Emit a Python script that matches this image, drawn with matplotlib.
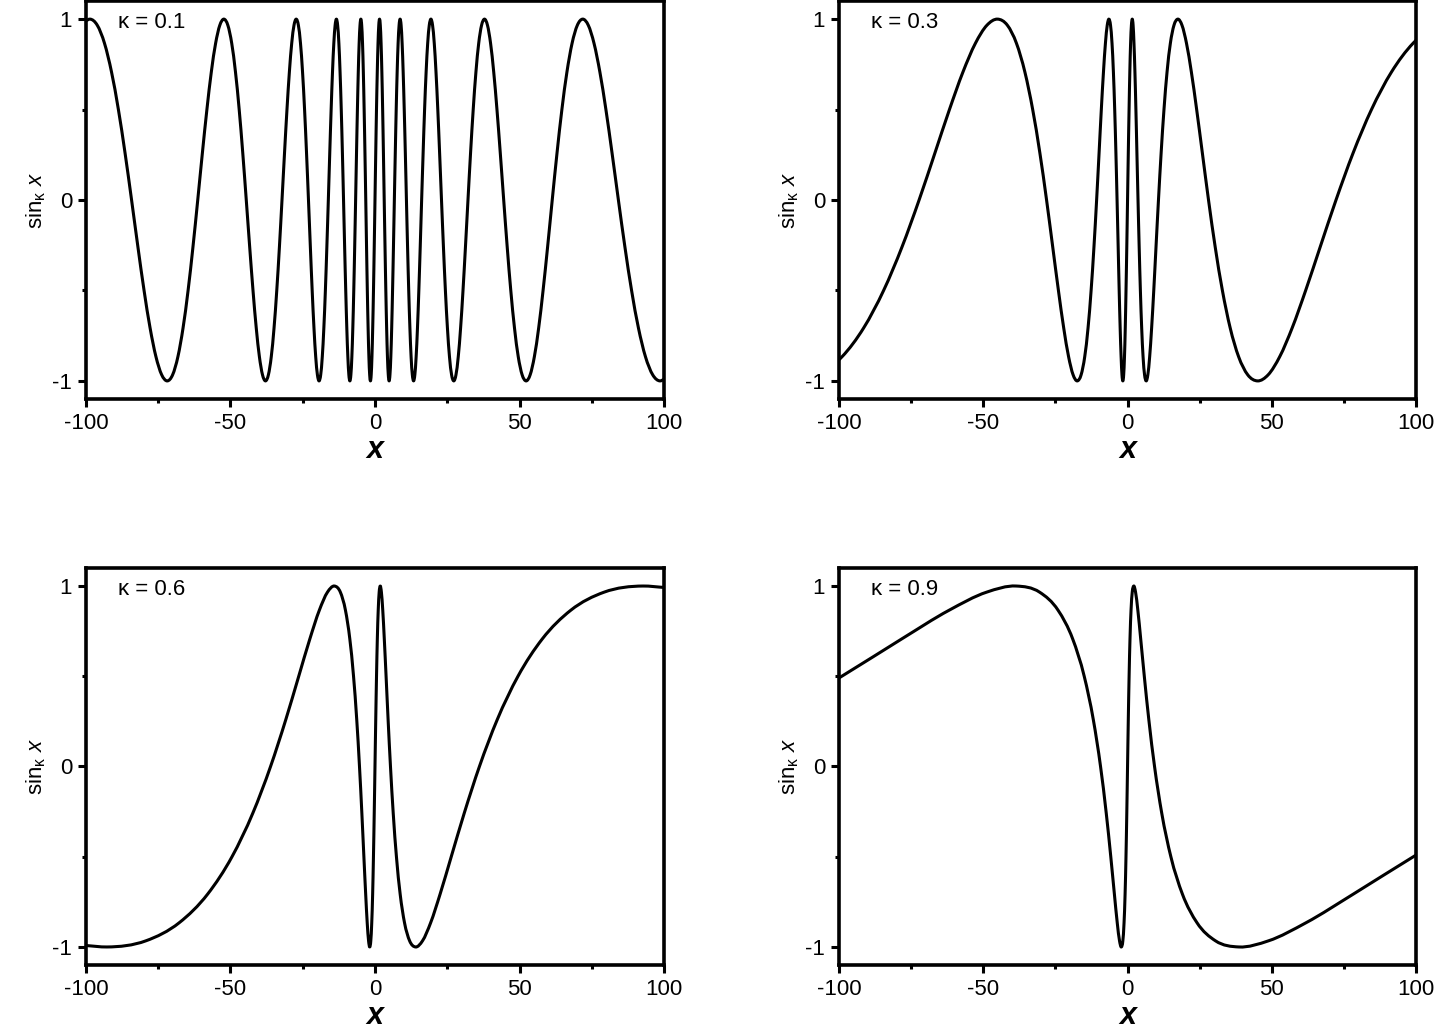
import matplotlib
matplotlib.use("Agg")
import matplotlib.pyplot as plt
import numpy as np
from matplotlib.path import Path
from matplotlib.patches import PathPatch
from matplotlib.ticker import MultipleLocator, FormatStrFormatter

plt.rcParams['font.family'] = ['Liberation Sans', 'DejaVu Sans']
plt.rcParams['mathtext.fontset'] = 'custom'
plt.rcParams['mathtext.rm'] = 'Liberation Sans'
plt.rcParams['mathtext.it'] = 'Liberation Sans:italic'

# kappa value of each panel
kappas = [0.1, 0.3, 0.6, 0.9]

# curve points (x, sin_k x)
x_k01 = [-100, -98.63, -96.07, -93.57, -91.14, -88.77, -86.46, -84.21, -82.02, -79.89, -77.81, -75.78,
         -73.80, -71.88, -70.00, -68.18, -66.40, -64.66, -62.97, -61.32, -59.72, -58.15, -56.63, -55.14,
         -53.69, -52.28, -50.90, -49.56, -48.26, -46.98, -45.74, -44.53, -43.35, -42.20, -41.08, -39.99,
         -38.92, -37.88, -36.87, -35.88, -34.92, -33.98, -33.06, -32.17, -31.30, -30.45, -29.62, -28.81,
         -28.02, -27.26, -26.50, -25.77, -25.06, -24.36, -23.68, -23.01, -22.36, -21.73, -21.11, -20.51,
         -19.92, -19.34, -18.78, -18.23, -17.69, -17.16, -16.65, -16.14, -15.65, -15.17, -14.70, -14.24,
         -13.79, -13.35, -12.92, -12.49, -12.08, -11.67, -11.27, -10.88, -10.50, -10.12, -9.75, -9.39,
         -9.04, -8.69, -8.34, -8.00, -7.67, -7.34, -7.02, -6.70, -6.39, -6.08, -5.78, -5.48,
         -5.18, -4.89, -4.60, -4.31, -4.03, -3.75, -3.47, -3.19, -2.92, -2.65, -2.38, -2.11,
         -1.84, -1.58, -1.31, -1.05, -0.79, -0.52, -0.26, 0,
         0.26, 0.52, 0.79, 1.05, 1.31, 1.58, 1.84, 2.11, 2.38, 2.65, 2.92, 3.19,
         3.47, 3.75, 4.03, 4.31, 4.60, 4.89, 5.18, 5.48, 5.78, 6.08, 6.39, 6.70,
         7.02, 7.34, 7.67, 8.00, 8.34, 8.69, 9.04, 9.39, 9.75, 10.12, 10.50, 10.88,
         11.27, 11.67, 12.08, 12.49, 12.92, 13.35, 13.79, 14.24, 14.70, 15.17, 15.65, 16.14,
         16.65, 17.16, 17.69, 18.23, 18.78, 19.34, 19.92, 20.51, 21.11, 21.73, 22.36, 23.01,
         23.68, 24.36, 25.06, 25.77, 26.50, 27.26, 28.02, 28.81, 29.62, 30.45, 31.30, 32.17,
         33.06, 33.98, 34.92, 35.88, 36.87, 37.88, 38.92, 39.99, 41.08, 42.20, 43.35, 44.53,
         45.74, 46.98, 48.26, 49.56, 50.90, 52.28, 53.69, 55.14, 56.63, 58.15, 59.72, 61.32,
         62.97, 64.66, 66.40, 68.18, 70.00, 71.88, 73.80, 75.78, 77.81, 79.89, 82.02, 84.21,
         86.46, 88.77, 91.14, 93.57, 96.07, 98.63, 100]
y_k01 = [0.991,
         1, .966, .866, .707, .5, .259, 0, -.259, -.5, -.707, -.866, -.966, -1, -.966, -.866, -.707, -.5, -.259, 0, .259, .5, .707, .866, .966,
         1, .966, .866, .707, .5, .259, 0, -.259, -.5, -.707, -.866, -.966, -1, -.966, -.866, -.707, -.5, -.259, 0, .259, .5, .707, .866, .966,
         1, .966, .866, .707, .5, .259, 0, -.259, -.5, -.707, -.866, -.966, -1, -.966, -.866, -.707, -.5, -.259, 0, .259, .5, .707, .866, .966,
         1, .966, .866, .707, .5, .259, 0, -.259, -.5, -.707, -.866, -.966, -1, -.966, -.866, -.707, -.5, -.259, 0, .259, .5, .707, .866, .966,
         1, .966, .866, .707, .5, .259, 0, -.259, -.5, -.707, -.866, -.966, -1, -.966, -.866, -.707, -.5, -.259, 0, .259, .5, .707, .866, .966,
         1, .966, .866, .707, .5, .259, 0, -.259, -.5, -.707, -.866, -.966, -1, -.966, -.866, -.707, -.5, -.259, 0, .259, .5, .707, .866, .966,
         1, .966, .866, .707, .5, .259, 0, -.259, -.5, -.707, -.866, -.966, -1, -.966, -.866, -.707, -.5, -.259, 0, .259, .5, .707, .866, .966,
         1, .966, .866, .707, .5, .259, 0, -.259, -.5, -.707, -.866, -.966, -1, -.966, -.866, -.707, -.5, -.259, 0, .259, .5, .707, .866, .966,
         1, .966, .866, .707, .5, .259, 0, -.259, -.5, -.707, -.866, -.966, -1, -.966, -.866, -.707, -.5, -.259, 0, .259, .5, .707, .866, .966,
         1, .966, .866, .707, .5, .259, 0, -.259, -.5, -.707, -.866, -.966, -1,
         -0.991]

x_k03 = [-100, -98.95, -91.47, -84.56, -78.17, -72.26, -66.79, -61.74, -57.07, -52.75, -48.76, -45.07,
         -41.65, -38.50, -35.58, -32.88, -30.38, -28.07, -25.94, -23.96, -22.13, -20.44, -18.88, -17.43,
         -16.09, -14.84, -13.69, -12.63, -11.64, -10.72, -9.87, -9.09, -8.35, -7.67, -7.04, -6.45,
         -5.90, -5.38, -4.90, -4.45, -4.03, -3.63, -3.25, -2.90, -2.56, -2.23, -1.93, -1.63,
         -1.34, -1.06, -0.79, -0.53, -0.26, 0,
         0.26, 0.53, 0.79, 1.06, 1.34, 1.63, 1.93, 2.23, 2.56, 2.90, 3.25, 3.63,
         4.03, 4.45, 4.90, 5.38, 5.90, 6.45, 7.04, 7.67, 8.35, 9.09, 9.87, 10.72,
         11.64, 12.63, 13.69, 14.84, 16.09, 17.43, 18.88, 20.44, 22.13, 23.96, 25.94, 28.07,
         30.38, 32.88, 35.58, 38.50, 41.65, 45.07, 48.76, 52.75, 57.07, 61.74, 66.79, 72.26,
         78.17, 84.56, 91.47, 98.95, 100]
y_k03 = [-0.883,
         -.866, -.707, -.5, -.259, 0, .259, .5, .707, .866, .966, 1, .966, .866, .707, .5, .259, 0, -.259, -.5, -.707, -.866, -.966, -1, -.966,
         -.866, -.707, -.5, -.259, 0, .259, .5, .707, .866, .966, 1, .966, .866, .707, .5, .259, 0, -.259, -.5, -.707, -.866, -.966, -1, -.966,
         -.866, -.707, -.5, -.259, 0, .259, .5, .707, .866, .966, 1, .966, .866, .707, .5, .259, 0, -.259, -.5, -.707, -.866, -.966, -1, -.966,
         -.866, -.707, -.5, -.259, 0, .259, .5, .707, .866, .966, 1, .966, .866, .707, .5, .259, 0, -.259, -.5, -.707, -.866, -.966, -1, -.966,
         -.866, -.707, -.5, -.259, 0, .259, .5, .707, .866,
         0.883]

x_k06 = [-100, -92.76, -79.27, -67.75, -57.89, -49.47, -42.28, -36.13, -30.87, -26.38, -22.53, -19.25,
         -16.44, -14.04, -11.98, -10.22, -8.71, -7.42, -6.31, -5.36, -4.54, -3.84, -3.22, -2.69,
         -2.22, -1.81, -1.45, -1.12, -0.81, -0.53, -0.26, 0,
         0.26, 0.53, 0.81, 1.12, 1.45, 1.81, 2.22, 2.69, 3.22, 3.84, 4.54, 5.36,
         6.31, 7.42, 8.71, 10.22, 11.98, 14.04, 16.44, 19.25, 22.53, 26.38, 30.87, 36.13,
         42.28, 49.47, 57.89, 67.75, 79.27, 92.76, 100]
y_k06 = [-0.992,
         -1, -.966, -.866, -.707, -.5, -.259, 0, .259, .5, .707, .866, .966, 1, .966, .866, .707, .5, .259, 0, -.259, -.5, -.707, -.866, -.966,
         -1, -.966, -.866, -.707, -.5, -.259, 0, .259, .5, .707, .866, .966, 1, .966, .866, .707, .5, .259, 0, -.259, -.5, -.707, -.866, -.966,
         -1, -.966, -.866, -.707, -.5, -.259, 0, .259, .5, .707, .866, .966, 1,
         0.992]

x_k09 = [-100, -99.07, -78.27, -61.84, -48.85, -38.60, -30.49, -24.09, -19.02, -15.02, -11.86, -9.36,
         -7.38, -5.81, -4.56, -3.57, -2.78, -2.15, -1.63, -1.21, -0.85, -0.54, -0.26, 0,
         0.26, 0.54, 0.85, 1.21, 1.63, 2.15, 2.78, 3.57, 4.56, 5.81, 7.38, 9.36,
         11.86, 15.02, 19.02, 24.09, 30.49, 38.60, 48.85, 61.84, 78.27, 99.07, 100]
y_k09 = [0.491,
         .5, .707, .866, .966, 1, .966, .866, .707, .5, .259, 0, -.259, -.5, -.707, -.866, -.966, -1, -.966, -.866, -.707, -.5, -.259, 0, .259,
         .5, .707, .866, .966, 1, .966, .866, .707, .5, .259, 0, -.259, -.5, -.707, -.866, -.966, -1, -.966, -.866, -.707, -.5,
         -0.491]

curves = [(x_k01, y_k01), (x_k03, y_k03), (x_k06, y_k06), (x_k09, y_k09)]


def smooth_path(xs, ys):
    # spline-style connection (cubic Bezier through every point, like Origin's "Spline" line)
    x = np.asarray(xs, float)
    y = np.asarray(ys, float)
    h = np.diff(x)
    d = np.diff(y) / h
    m = np.empty_like(y)
    m[0], m[-1] = d[0], d[-1]
    m[1:-1] = (h[1:] * d[:-1] + h[:-1] * d[1:]) / (h[:-1] + h[1:])
    verts = [(x[0], y[0])]
    codes = [Path.MOVETO]
    for i in range(len(x) - 1):
        verts += [(x[i] + h[i] / 3, y[i] + m[i] * h[i] / 3),
                  (x[i + 1] - h[i] / 3, y[i + 1] - m[i + 1] * h[i] / 3),
                  (x[i + 1], y[i + 1])]
        codes += [Path.CURVE4] * 3
    return Path(verts, codes)


fig = plt.figure(figsize=(14.37, 10.31), dpi=100)
positions = [
    [0.0598, 0.6130, 0.4023, 0.3860],
    [0.5839, 0.6130, 0.4015, 0.3860],
    [0.0598, 0.0640, 0.4023, 0.3851],
    [0.5839, 0.0640, 0.4015, 0.3851],
]

for k, (xs, ys), pos in zip(kappas, curves, positions):
    ax = fig.add_axes(pos)
    ax.add_patch(PathPatch(smooth_path(xs, ys), fill=False, edgecolor='black',
                           lw=2.2, joinstyle='round'))
    ax.set_xlim(-100, 100)
    ax.set_ylim(-1.1, 1.1)
    ax.xaxis.set_major_locator(MultipleLocator(50))
    ax.xaxis.set_minor_locator(MultipleLocator(25))
    ax.yaxis.set_major_locator(MultipleLocator(1))
    ax.yaxis.set_minor_locator(MultipleLocator(0.5))
    ax.xaxis.set_major_formatter(FormatStrFormatter('%d'))
    ax.yaxis.set_major_formatter(FormatStrFormatter('%d'))
    ax.tick_params(which='major', direction='out', length=6, width=2.2, labelsize=16, pad=4)
    ax.tick_params(which='minor', direction='out', length=3, width=2.2)
    for s in ax.spines.values():
        s.set_linewidth(2.6)
    ax.set_xlabel('x', fontsize=22, style='italic', fontweight='bold', labelpad=1)
    ax.set_ylabel(r'sin$_\mathregular{\kappa}$ $\mathit{x}$', fontsize=16, labelpad=3)
    ax.text(0.055, 0.947, u'\u03ba = %s' % k, transform=ax.transAxes,
            fontsize=16, ha='left', va='center')

fig.savefig("out.png")
